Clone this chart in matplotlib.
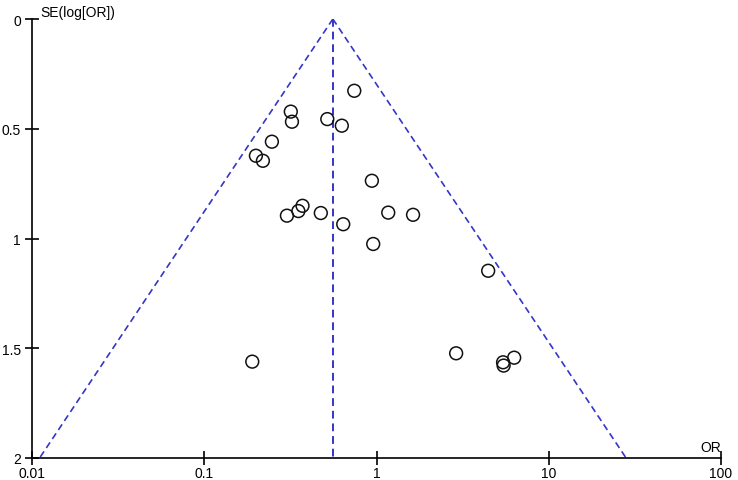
import numpy as np
import matplotlib
matplotlib.use("Agg")
import matplotlib.pyplot as plt

plt.rcParams['font.family'] = ['Liberation Sans', 'DejaVu Sans']

# Study data: odds ratios and standard errors of log(OR)
or_vals = [0.743, 0.318, 0.323, 0.518, 0.629, 0.247, 0.1995, 0.219, 0.94,
           0.372, 0.352, 0.302, 0.475, 0.641, 0.957, 1.17, 1.63, 0.19,
           4.45, 2.90, 6.30, 5.43, 5.47]
se_vals = [0.327, 0.422, 0.468, 0.456, 0.486, 0.559, 0.623, 0.646, 0.737,
           0.851, 0.875, 0.896, 0.884, 0.935, 1.025, 0.882, 0.892, 1.561,
           1.147, 1.523, 1.543, 1.564, 1.579]
pooled_or = 0.558
se_max = 2.0
x_ticks = [0.01, 0.1, 1, 10, 100]
x_tick_labels = ['0.01', '0.1', '1', '10', '100']
y_ticks = [0, 0.5, 1, 1.5, 2]
y_tick_labels = ['0', '0.5', '1', '1.5', '2']

fig = plt.figure(figsize=(7.38, 4.81), dpi=100)
ax = fig.add_axes([32/738, 1-459/481, (721-32)/738, (459-20)/481])

line_col = '#3535c8'
se_line = np.array([0.0, se_max])
ax.plot(pooled_or * np.exp(-1.96 * se_line), se_line, ls=(0, (4, 2.5)), color=line_col, lw=1.2)
ax.plot(pooled_or * np.exp(1.96 * se_line), se_line, ls=(0, (4, 2.5)), color=line_col, lw=1.2)
ax.plot([pooled_or, pooled_or], [0, se_max], ls=(0, (4, 2.5)), color=line_col, lw=1.4)

ax.scatter(or_vals, se_vals, s=85, facecolors='none', edgecolors='#111111', linewidths=1.1, zorder=3)

ax.set_xscale('log')
ax.set_xlim(0.01, 100)
ax.set_ylim(2, 0)
ax.set_xticks(x_ticks)
ax.set_xticklabels(x_tick_labels)
ax.minorticks_off()
ax.set_yticks(y_ticks)
ax.set_yticklabels(y_tick_labels)

for s in ['top', 'right']:
    ax.spines[s].set_visible(False)
for s in ['left', 'bottom']:
    ax.spines[s].set_linewidth(1.2)
ax.tick_params(axis='both', direction='inout', length=10, width=1.2, labelsize=10, pad=1)
ax.tick_params(axis='y', pad=3)

ax.text(0.012, 1.0, 'SE(log[OR])', transform=ax.transAxes, fontsize=10, va='bottom', ha='left')
ax.text(1.0, 0.01, 'OR', transform=ax.transAxes, fontsize=10, va='bottom', ha='right')

fig.savefig('out.png', dpi=100)
